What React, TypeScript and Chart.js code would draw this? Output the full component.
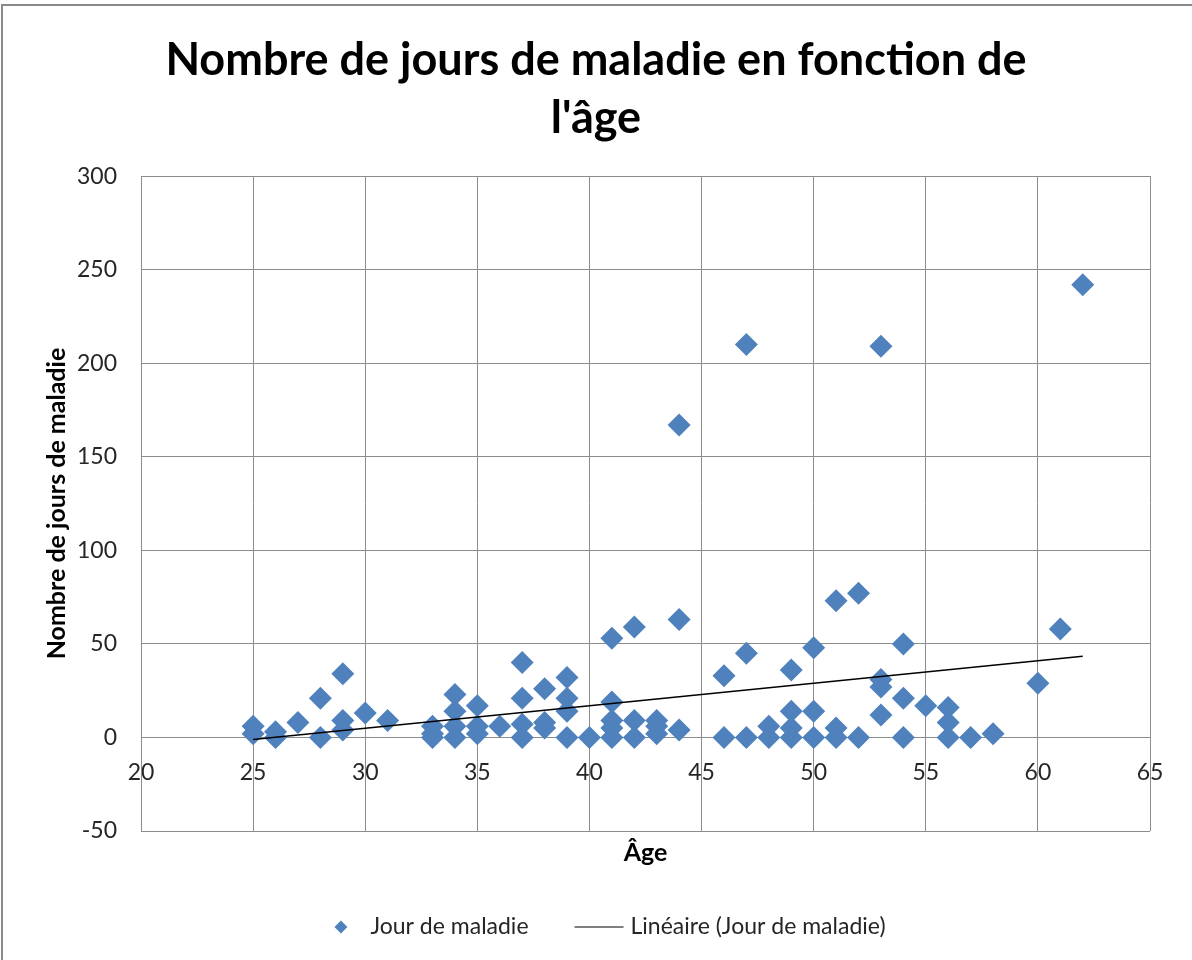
import React, { useEffect, useRef } from 'react';
import { Chart, registerables } from 'chart.js';

Chart.register(...registerables);

// ---- data ----
const titleLines = ['Nombre de jours de maladie en fonction de', "l'âge"];
const xAxisTitle = 'Âge';
const yAxisTitle = 'Nombre de jours de maladie';
const seriesLabel = 'Jour de maladie';
const trendLabel = 'Linéaire (Jour de maladie)';

const ages = [
  25, 25, 26, 26, 27, 28, 28, 29, 29, 29, 30, 31, 33, 33, 33, 34, 34, 34, 34, 35, 35, 35, 36,
  37, 37, 37, 37, 38, 38, 38, 39, 39, 39, 39, 40, 41, 41, 41, 41, 41, 42, 42, 42, 43, 43, 43,
  44, 44, 44, 46, 46, 47, 47, 47, 48, 48, 49, 49, 49, 49, 50, 50, 50, 51, 51, 51, 52, 52,
  53, 53, 53, 53, 54, 54, 54, 55, 56, 56, 56, 57, 58, 60, 61, 62,
];
const sickDays = [
  6, 2, 3, 0, 8, 21, 0, 34, 9, 4, 13, 9, 6, 2, 0, 23, 14, 6, 0, 17, 6, 2, 6,
  40, 21, 7, 0, 26, 8, 5, 32, 21, 14, 0, 0, 53, 19, 9, 5, 0, 59, 9, 0, 9, 6, 2,
  167, 63, 4, 33, 0, 210, 45, 0, 6, 0, 36, 14, 5, 0, 48, 14, 0, 73, 5, 0, 77, 0,
  209, 31, 27, 12, 50, 21, 0, 17, 16, 8, 0, 0, 2, 29, 58, 242,
];

// linear trend line end points
const trendAges = [25, 62];
const trendValues = [-1.1, 43.4];

const xMin = 20;
const xMax = 65;
const xStep = 5;
const yMin = -50;
const yMax = 300;
const yStep = 50;

const BLUE = '#4F81BD';
const GRID = '#8c8c8c';
const TEXT = '#262626';
const FONT = 'Lato';

const legendPlugin = {
  id: 'excelLegend',
  afterDraw(chart: any) {
    const ctx = chart.ctx as CanvasRenderingContext2D;
    const ds = chart.data.datasets;
    const scatterLabel = ds[1].label as string;
    const lineLabel = ds[0].label as string;
    ctx.save();
    ctx.font = `23px ${FONT}`;
    ctx.textBaseline = 'middle';
    ctx.textAlign = 'left';
    ctx.fillStyle = TEXT;
    const y = 927;
    const w1 = ctx.measureText(scatterLabel).width;
    const w2 = ctx.measureText(lineLabel).width;
    const diamondHalf = 6.5;
    const gapAfterDiamond = 23;
    const gapBetween = 46;
    const lineLen = 49;
    const gapAfterLine = 7;
    const total = diamondHalf * 2 + gapAfterDiamond + w1 + gapBetween + lineLen + gapAfterLine + w2;
    let x = chart.width / 2 + 14 - total / 2;
    const cx = x + diamondHalf;
    ctx.beginPath();
    ctx.moveTo(cx - diamondHalf, y);
    ctx.lineTo(cx, y - diamondHalf);
    ctx.lineTo(cx + diamondHalf, y);
    ctx.lineTo(cx, y + diamondHalf);
    ctx.closePath();
    ctx.fillStyle = BLUE;
    ctx.fill();
    x += diamondHalf * 2 + gapAfterDiamond;
    ctx.fillStyle = TEXT;
    ctx.fillText(scatterLabel, x, y);
    x += w1 + gapBetween;
    ctx.beginPath();
    ctx.moveTo(x, y);
    ctx.lineTo(x + lineLen, y);
    ctx.strokeStyle = '#000';
    ctx.lineWidth = 1.2;
    ctx.stroke();
    x += lineLen + gapAfterLine;
    ctx.fillText(lineLabel, x, y);
    ctx.restore();
  },
};

export default function App() {
  const canvasRef = useRef<HTMLCanvasElement | null>(null);

  useEffect(() => {
    const canvas = canvasRef.current;
    if (!canvas) return;
    const points = ages.map((a, i) => ({ x: a, y: sickDays[i] }));
    const trend = trendAges.map((a, i) => ({ x: a, y: trendValues[i] }));

    const chart = new Chart(canvas, {
      type: 'scatter',
      data: {
        datasets: [
          {
            type: 'line',
            label: trendLabel,
            data: trend,
            borderColor: '#000000',
            borderWidth: 1.3,
            pointRadius: 0,
            fill: false,
            order: 0,
          } as any,
          {
            label: seriesLabel,
            data: points,
            pointStyle: 'rectRot',
            pointRadius: 11.5,
            pointHoverRadius: 11.5,
            backgroundColor: BLUE,
            borderColor: BLUE,
            borderWidth: 0,
            order: 1,
          },
        ],
      },
      options: {
        responsive: false,
        animation: false,
        events: [],
        layout: { padding: { left: 0, right: 0, top: 0, bottom: 0 } },
        plugins: {
          legend: { display: false },
          tooltip: { enabled: false },
          title: {
            display: true,
            text: titleLines,
            color: '#000000',
            font: { family: FONT, size: 45, weight: 'bold', lineHeight: 1.29 },
            padding: { top: 31, bottom: 29 },
          },
        },
        scales: {
          x: {
            type: 'linear',
            position: { y: 0 } as any,
            min: xMin,
            max: xMax,
            ticks: {
              stepSize: xStep,
              color: TEXT,
              font: { family: FONT, size: 23 },
              padding: 21,
              maxRotation: 0,
            },
            grid: { color: GRID, lineWidth: 1, drawTicks: false },
            border: { display: true, color: GRID, width: 1 },
          },
          x2: {
            type: 'linear',
            position: 'bottom',
            axis: 'x',
            min: xMin,
            max: xMax,
            ticks: { display: false },
            grid: { display: false, drawTicks: false },
            border: { display: false },
            title: {
              display: true,
              text: xAxisTitle,
              color: '#000000',
              font: { family: FONT, size: 25, weight: 'bold', lineHeight: 1.2 },
              padding: { top: 0, bottom: 92 },
            },
            afterFit: (scale: any) => {
              scale.height = 129;
            },
          },
          y: {
            type: 'linear',
            position: 'left',
            min: yMin,
            max: yMax,
            ticks: {
              stepSize: yStep,
              color: TEXT,
              font: { family: FONT, size: 23 },
              padding: 24,
            },
            grid: { color: GRID, lineWidth: 1, drawTicks: false },
            border: { display: true, color: GRID, width: 1 },
            title: {
              display: true,
              text: yAxisTitle,
              color: '#000000',
              font: { family: FONT, size: 25, weight: 'bold', lineHeight: 1.2 },
              padding: { top: 42, bottom: 0 },
            },
            afterFit: (scale: any) => {
              scale.width = 141;
            },
          },
          y2: {
            type: 'linear',
            position: 'right',
            axis: 'y',
            min: yMin,
            max: yMax,
            ticks: { display: false },
            grid: { display: false, drawTicks: false },
            border: { display: false },
            afterFit: (scale: any) => {
              scale.width = 42;
            },
          },
        },
      } as any,
      plugins: [legendPlugin],
    });

    return () => {
      chart.destroy();
    };
  }, []);

  return (
    <div
      style={{
        position: 'absolute',
        left: 0,
        top: 0,
        width: 1192,
        height: 960,
        background: '#ffffff',
        overflow: 'hidden',
      }}
    >
      <div
        style={{
          position: 'absolute',
          left: 1,
          top: 4,
          width: 1200,
          height: 1000,
          borderTop: '2px solid #8a8a8a',
          borderLeft: '2px solid #8a8a8a',
          pointerEvents: 'none',
        }}
      />
      <canvas ref={canvasRef} width={1192} height={960} style={{ position: 'absolute', left: 0, top: 0 }} />
    </div>
  );
}
